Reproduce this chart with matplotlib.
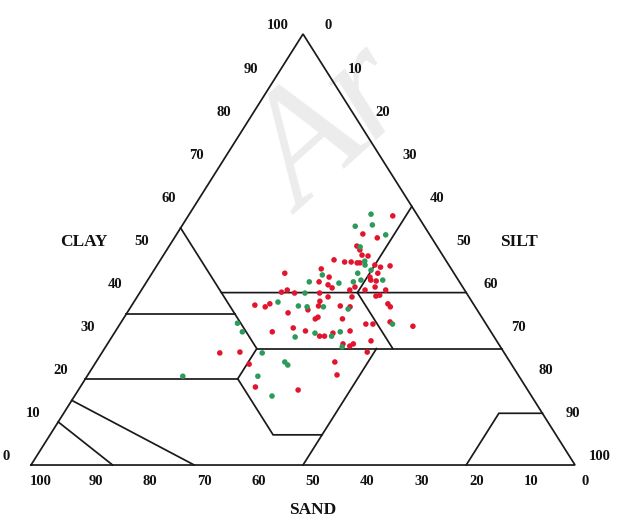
import matplotlib.pyplot as plt

plt.rcParams['font.family'] = ['Liberation Serif', 'DejaVu Serif']

# sample points, clay % and silt % (sand is the rest)
red_clay = [47.6, 47.1, 47.1, 50.8, 46.9, 45.5, 43.6, 42.5, 41.8, 41.1, 41.3, 40.6, 39.9,
            49.9, 48.7, 48.5, 46.9, 46.4, 45.9, 46.2, 44.5, 43.6, 42.9, 42.7, 41.3, 40.6,
            38.0, 36.9, 36.9, 36.7, 33.9, 34.3, 33.9, 31.1, 29.9, 29.9, 30.6, 31.1, 28.1,
            28.1, 39.2, 37.4, 36.7, 32.7, 32.7, 33.2, 32.2, 28.8, 37.1, 36.7, 37.4, 35.3,
            30.9, 26.0, 26.2, 23.4, 18.1, 39.9, 39.0, 39.0, 39.4, 36.0, 31.8, 27.6, 26.2,
            23.9, 20.9, 17.4, 44.5, 40.6, 40.1, 57.8, 53.6, 52.7, 40.6]
red_silt = [31.9, 34.1, 35.3, 34.5, 36.5, 30.6, 33.0, 31.7, 33.7, 34.8, 38.9, 38.3, 33.1,
            35.5, 36.5, 37.7, 37.0, 40.0, 41.3, 42.9, 41.5, 40.5, 41.0, 42.1, 42.6, 41.1,
            34.1, 34.4, 38.4, 40.3, 35.3, 35.6, 40.3, 34.9, 38.1, 39.0, 40.2, 43.1, 43.3,
            45.2, 43.8, 46.9, 47.7, 45.2, 46.5, 49.4, 54.1, 48.1, 22.6, 24.7, 25.2, 29.6,
            28.9, 21.7, 25.3, 28.4, 32.2, 28.5, 35.1, 39.5, 44.4, 32.9, 32.3, 44.8, 48.7,
            43.9, 45.8, 40.4, 24.4, 26.8, 26.0, 37.6, 34.2, 37.3, 44.9]

green_clay = [42.5, 44.1, 42.2, 42.5, 39.9, 47.3, 46.4, 45.2, 42.9, 42.9, 44.5, 36.7, 36.7,
              36.2, 30.6, 29.9, 32.7, 37.8, 32.9, 30.9, 26.0, 23.9, 23.2, 20.6, 20.6, 16.0,
              36.9, 29.7, 27.4, 58.2, 55.4, 55.7, 53.4, 50.6, 30.9]
green_silt = [29.9, 31.5, 35.5, 38.0, 30.4, 37.7, 38.2, 39.9, 43.2, 39.2, 37.8, 32.4, 35.4,
              40.2, 36.9, 40.3, 50.1, 26.5, 21.5, 23.4, 29.5, 34.7, 35.6, 31.4, 17.6, 36.3,
              30.7, 33.7, 43.5, 33.4, 31.9, 34.9, 38.5, 35.2, 41.4]

# texture class boundaries (clay, silt)
outline = [(0, 0), (0, 100), (100, 0), (0, 0)]
boundaries = [
    [(55, 0), (40, 15), (40, 60)],
    [(40, 40), (60, 40)],
    [(40, 40), (27, 53)],
    [(27, 28), (27, 73)],
    [(35, 0), (35, 20)],
    [(40, 15), (35, 20), (27, 28), (20, 28)],
    [(20, 0), (20, 28)],
    [(20, 28), (7, 41), (7, 50), (0, 50)],
    [(7, 50), (27, 50)],
    [(0, 80), (12, 80), (12, 88)],
    [(15, 0), (0, 30)],
    [(10, 0), (0, 15)],
]
ticks = [0, 10, 20, 30, 40, 50, 60, 70, 80, 90, 100]


def tern(clay, silt):
    return [s + c / 2 for c, s in zip(clay, silt)], list(clay)


fig = plt.figure(figsize=(6.18, 5.21), dpi=100)
ax = fig.add_axes([0, 0, 1, 1])
ax.set_xlim(-5.70, 107.90)
ax.set_ylim(-12.99, 107.89)
ax.axis('off')

# faint watermark
ax.text(36.0, 60.0, 'Ar', fontsize=115, style='italic', color='#ececec',
        rotation=42, ha='left', va='baseline', zorder=0)

lw = 1.25
for line in [outline] + boundaries:
    x, y = tern([p[0] for p in line], [p[1] for p in line])
    ax.plot(x, y, color='#1a1a1a', lw=lw, solid_joinstyle='miter', zorder=2)

x, y = tern(red_clay, red_silt)
ax.scatter(x, y, s=16, color='#e3142d', edgecolors='none', zorder=3)
x, y = tern(green_clay, green_silt)
ax.scatter(x, y, s=16, color='#2b9a5a', edgecolors='none', zorder=3)

fs = 10.5
kw = dict(fontsize=fs, fontweight='bold', ha='center', va='center', color='#111111')
for t in ticks:
    # clay on the left edge
    ax.text(t / 2 - 4.6, t + 1.86, str(t), **kw)
    # silt on the right edge
    ax.text(50 + t / 2 + 4.6, 100 - t + 1.86, str(t), **kw)
    # sand along the base
    ax.text(100 - t + 1.84, -3.94, str(t), **kw)

tk = dict(fontsize=12.5, fontweight='bold', ha='center', va='center', color='#111111')
ax.text(9.74, 51.74, 'CLAY', **tk)
ax.text(89.7, 51.74, 'SILT', **tk)
ax.text(51.84, -10.44, 'SAND', **tk)

fig.savefig('out.png', dpi=100)
